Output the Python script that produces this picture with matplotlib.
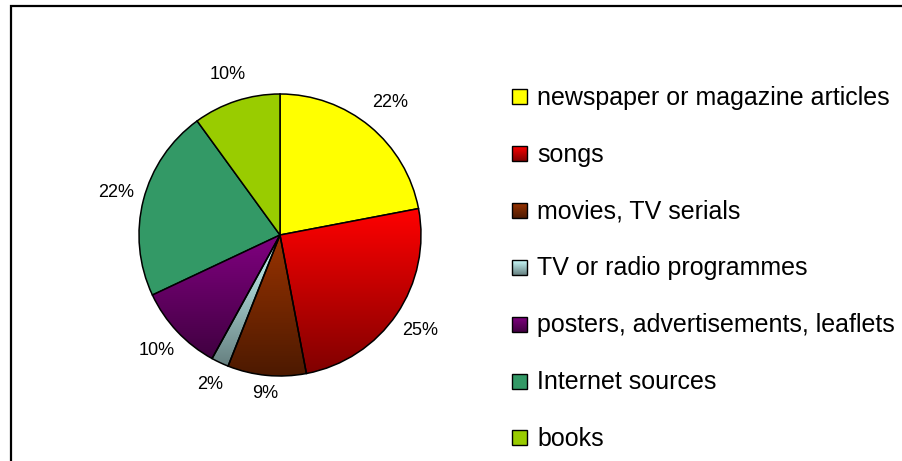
import matplotlib
matplotlib.use('Agg')
import matplotlib.pyplot as plt
import matplotlib.patches as mpatches
from matplotlib.colors import to_rgb
import numpy as np

plt.rcParams['font.family'] = ['Liberation Sans', 'DejaVu Sans']

# Sources of English outside the classroom (share of answers, %)
sources = ['newspaper or magazine articles', 'songs', 'movies, TV serials',
           'TV or radio programmes', 'posters, advertisements, leaflets',
           'Internet sources', 'books']
shares = [22, 25, 9, 2, 10, 22, 10]

# fill colours; shaded slices fade to half brightness towards the bottom
FILL = ['#FFFF00', '#FF0000', '#993300', '#CCFFFF', '#800080', '#339966', '#99CC00']
SHADED = [False, True, True, True, True, False, False]
# how far out each percentage sits, in pie radii
LABEL_DIST = [1.22, 1.2, 1.13, 1.17, 1.2, 1.2, 1.2]

W, H = 902, 461
fig = plt.figure(figsize=(W / 100, H / 100), dpi=100)


def gradient(color, n=256):
    top = np.array(to_rgb(color))
    t = np.linspace(0, 1, n)[:, None]
    return (top * (1 - t) + top * 0.5 * t)[:, None, :]


# chart area border, open to the right and bottom
fig.add_artist(mpatches.Rectangle((11 / W, -0.1), 1.2, 1 - 6 / H + 0.1,
                                  transform=fig.transFigure, fill=False,
                                  edgecolor='black', linewidth=1.6))

# ── pie ───────────────────────────────────────────────────────────────────────
cx, cy, r = 280, 235, 141
ax = fig.add_axes([(cx - r) / W, (H - cy - r) / H, 2 * r / W, 2 * r / H])
wedges, _, pcts = ax.pie(shares, colors=FILL, startangle=90, counterclock=False,
                         autopct='%d%%', pctdistance=1.2, radius=1,
                         wedgeprops=dict(edgecolor='black', linewidth=1.1),
                         textprops=dict(fontsize=13))

for w, t, d in zip(wedges, pcts, LABEL_DIST):
    mid = np.deg2rad((w.theta1 + w.theta2) / 2)
    t.set_position((d * np.cos(mid), d * np.sin(mid)))

for w, c, shade in zip(wedges, FILL, SHADED):
    if not shade:
        continue
    ext = w.get_path().get_extents()
    w.set_facecolor('none')
    w.set_zorder(3)
    im = ax.imshow(gradient(c), extent=(ext.x0, ext.x1, ext.y0, ext.y1),
                   origin='upper', aspect='auto', interpolation='bilinear', zorder=2)
    im.set_clip_path(w)

ax.set_aspect('auto')
ax.set_xlim(-1, 1)
ax.set_ylim(-1, 1)
ax.axis('off')

# ── legend ────────────────────────────────────────────────────────────────────
lax = fig.add_axes([0, 0, 1, 1])
lax.set_xlim(0, W)
lax.set_ylim(H, 0)
lax.axis('off')

box = 15
for i, (name, c, shade) in enumerate(zip(sources, FILL, SHADED)):
    yc = 97 + i * 56.8
    x0, y0 = 512, yc - box / 2
    if shade:
        lax.imshow(gradient(c), extent=(x0, x0 + box, y0 + box, y0),
                   origin='upper', aspect='auto', interpolation='bilinear', zorder=2)
        face = 'none'
    else:
        face = c
    lax.add_patch(mpatches.Rectangle((x0, y0), box, box, facecolor=face,
                                     edgecolor='black', linewidth=1.0, zorder=3))
    lax.text(537, yc + 8, name, fontsize=18, va='baseline', ha='left')
lax.set_xlim(0, W)
lax.set_ylim(H, 0)

fig.savefig('out.png', dpi=100)
